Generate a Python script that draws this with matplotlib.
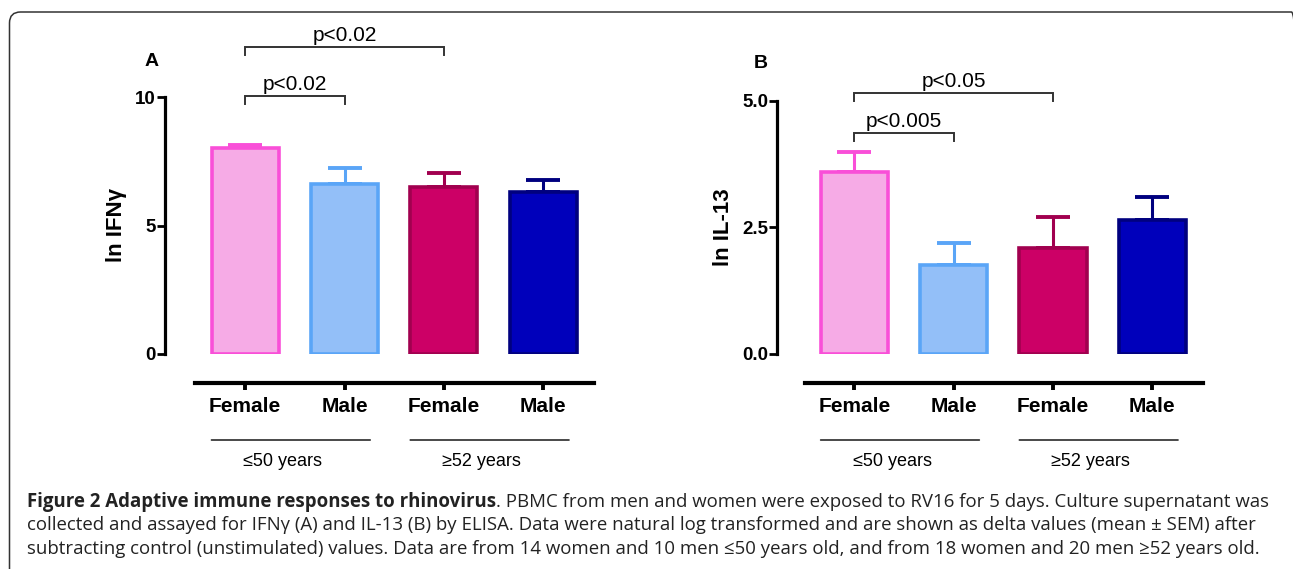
import matplotlib
matplotlib.use("Agg")
import matplotlib.pyplot as plt
from matplotlib.patches import FancyBboxPatch
from matplotlib.text import Annotation
from matplotlib.transforms import IdentityTransform
from matplotlib import font_manager

# values (mean and upper SEM)
sexes = ["Female", "Male", "Female", "Male"]
age_groups = ["\u226450 years", "\u226552 years"]
ifng_mean = [8.0, 6.6, 6.5, 6.3]
ifng_sem = [0.12, 0.65, 0.55, 0.48]
il13_mean = [3.6, 1.75, 2.1, 2.65]
il13_sem = [0.4, 0.45, 0.6, 0.45]

face_colors = ["#f6abe6", "#93bff8", "#cc0066", "#0000bb"]
edge_colors = ["#f94fd8", "#5aa5f7", "#a1004f", "#00007f"]

# brackets: (bar i, bar j, height, label)
ifng_brackets = [(0, 1, 10.04, "p<0.02"), (0, 2, 11.95, "p<0.02")]
il13_brackets = [(0, 1, 4.37, "p<0.005"), (0, 2, 5.16, "p<0.05")]

W, H = 1293, 569
fig = plt.figure(figsize=(W / 100, H / 100), dpi=100)
fig.patch.set_facecolor("white")

installed = {f.name for f in font_manager.fontManager.ttflist}
sans = "Liberation Sans" if "Liberation Sans" in installed else "DejaVu Sans"
cap_font = "Open Sans" if "Open Sans" in installed else sans
plt.rcParams["font.family"] = [sans, "DejaVu Sans"]


def px_axes(left, top, right, bottom):
    return fig.add_axes([left / W, 1 - bottom / H, (right - left) / W, (bottom - top) / H])


def panel(ax, means, sems, ymax, yticks, yticklabels, ylabel, xlim, brackets, unit_px):
    x = list(range(len(means)))
    for i in x:
        ax.errorbar(i, means[i], yerr=[[0], [sems[i]]], fmt="none", ecolor=edge_colors[i],
                    elinewidth=2.2, capsize=12.5, capthick=2.8, zorder=1)
        ax.bar(i, means[i], width=0.675, color=face_colors[i], edgecolor=edge_colors[i],
               linewidth=2.6, zorder=2)
    ax.set_xlim(*xlim)
    ax.set_ylim(0, ymax)
    for s in ["top", "right"]:
        ax.spines[s].set_visible(False)
    ax.spines["left"].set_linewidth(2.3)
    ax.spines["left"].set_bounds(0, ymax)
    ax.spines["bottom"].set_position(("outward", 21))
    ax.spines["bottom"].set_linewidth(3.0)
    ax.spines["bottom"].set_bounds(-0.5, 3.51)
    ax.set_yticks(yticks)
    ax.set_yticklabels(yticklabels, fontsize=13.5, fontweight="bold")
    ax.tick_params(axis="y", direction="out", length=5.5, width=2.0, pad=1)
    ax.set_xticks(x)
    ax.set_xticklabels(sexes, fontsize=15, fontweight="bold")
    ax.tick_params(axis="x", direction="out", length=5, width=2.8, pad=5)
    ax.set_ylabel(ylabel, fontsize=16, fontweight="bold", labelpad=6)
    ax.patch.set_visible(False)

    tick = 8 / unit_px
    for i, j, h, label in brackets:
        ax.plot([i, i, j, j], [h - tick, h, h, h - tick], color="#333333", lw=1.4,
                clip_on=False, solid_joinstyle="miter")
        ax.text((i + j) / 2, h + 2 / unit_px, label, ha="center", va="bottom",
                fontsize=15, clip_on=False)

    # age group underlines and labels
    for g, name in enumerate(age_groups):
        ax.annotate("", xy=(2 * g - 0.34, -86), xytext=(2 * g + 1.26, -86),
                    xycoords=("data", "axes pixels"), textcoords=("data", "axes pixels"),
                    arrowprops=dict(arrowstyle="-", lw=1.0, color="black",
                                    shrinkA=0, shrinkB=0))
        ax.annotate(name, xy=(2 * g + 0.38, -108), xycoords=("data", "axes pixels"),
                    ha="center", va="center", fontsize=13)


axA = px_axes(165, 97, 593, 354)
panel(axA, ifng_mean, ifng_sem, 10, [0, 5, 10], ["0", "5", "10"], "ln IFN\u03b3",
      (-0.806, 3.5), ifng_brackets, 25.7)

axB = px_axes(777, 101, 1202, 354)
panel(axB, il13_mean, il13_sem, 5.0, [0, 2.5, 5.0], ["0.0", "2.5", "5.0"], "ln IL-13",
      (-0.778, 3.5), il13_brackets, 50.6)

fig.text(152 / W, 1 - 62 / H, "A", fontsize=14, fontweight="bold", ha="center", va="center")
fig.text(761 / W, 1 - 63 / H, "B", fontsize=14, fontweight="bold", ha="center", va="center")

# rounded frame around the figure (pixel coordinates, right edge runs off the image)
frame = FancyBboxPatch((9.5, -40), 1293, H - 12 + 40,
                       boxstyle="round,pad=0,rounding_size=11",
                       transform=IdentityTransform(), fill=False, edgecolor="#333333",
                       lw=1.1)
fig.patches.append(frame)

# caption
cap_size = 13.4
cap_color = "#222222"
bold = fig.text(27 / W, 1 - 507 / H, "Figure 2 Adaptive immune responses to rhinovirus",
                fontsize=cap_size, fontweight="bold", family=cap_font, color=cap_color,
                va="baseline")
rest = Annotation(". PBMC from men and women were exposed to RV16 for 5 days. "
                  "Culture supernatant was", xy=(1.0, H - 507),
                  xycoords=(bold, "figure pixels"), va="baseline", ha="left",
                  fontsize=cap_size, family=cap_font, color=cap_color)
fig.add_artist(rest)
fig.text(27 / W, 1 - 530 / H,
         "collected and assayed for IFN\u03b3 (A) and IL-13 (B) by ELISA. Data were natural "
         "log transformed and are shown as delta values (mean \u00b1 SEM) after",
         fontsize=cap_size, family=cap_font, color=cap_color, va="baseline")
fig.text(27 / W, 1 - 554 / H,
         "subtracting control (unstimulated) values. Data are from 14 women and 10 men "
         "\u226450 years old, and from 18 women and 20 men \u226552 years old.",
         fontsize=cap_size, family=cap_font, color=cap_color, va="baseline")

fig.savefig("out.png", dpi=100)
